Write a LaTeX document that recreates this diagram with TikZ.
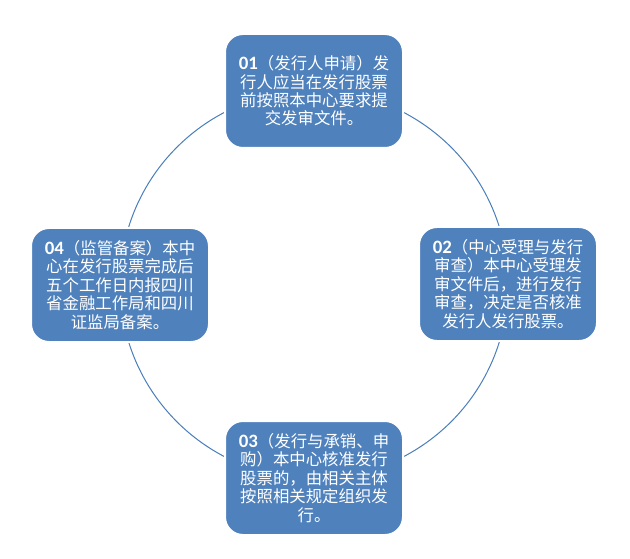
\documentclass[tikz,border=0pt]{standalone}
\usepackage{fontspec}
\setmainfont{Noto Sans CJK SC}
\newfontfamily\numfont[Scale = 1.15]{Carlito}
\definecolor{stepblue}{HTML}{4F81BD}
\definecolor{ringblue}{HTML}{4A7EBB}
\tikzset{
    stepbox/.style = {draw = white, line width = 2pt, fill = stepblue, rounded corners = 18pt,
        minimum width = 178pt, minimum height = 114pt, text = white, align = center,
        font = \fontsize{16.4pt}{18.4pt}\selectfont, inner sep = 0pt},
}
\newcommand{\stepno}[1]{{\numfont\bfseries #1}}

\begin{document}
\begin{tikzpicture}[x = 1pt, y = -1pt]
    \useasboundingbox (0, 0) rectangle (630, 559);

    \coordinate (mid) at (314, 284.5);
    \draw[ringblue, line width = 1pt] (mid) circle[radius = 194pt];

    \node[stepbox] (apply) at (314, 91) {\stepno{01}（发行人申请）发\\行人应当在发行股票\\前按照本中心要求提\\交发审文件。};
    \node[stepbox] (review) at (508, 284) {\stepno{02}（中心受理与发行\\审查）本中心受理发\\审文件后，进行发行\\审查，决定是否核准\\发行人发行股票。};
    \node[stepbox] (issue) at (314, 478) {\stepno{03}（发行与承销、申\\购）本中心核准发行\\股票的，由相关主体\\按照相关规定组织发\\行。};
    \node[stepbox] (filing) at (120, 285) {\stepno{04}（监管备案）本中\\心在发行股票完成后\\五个工作日内报四川\\省金融工作局和四川\\证监局备案。};
\end{tikzpicture}
\end{document}
